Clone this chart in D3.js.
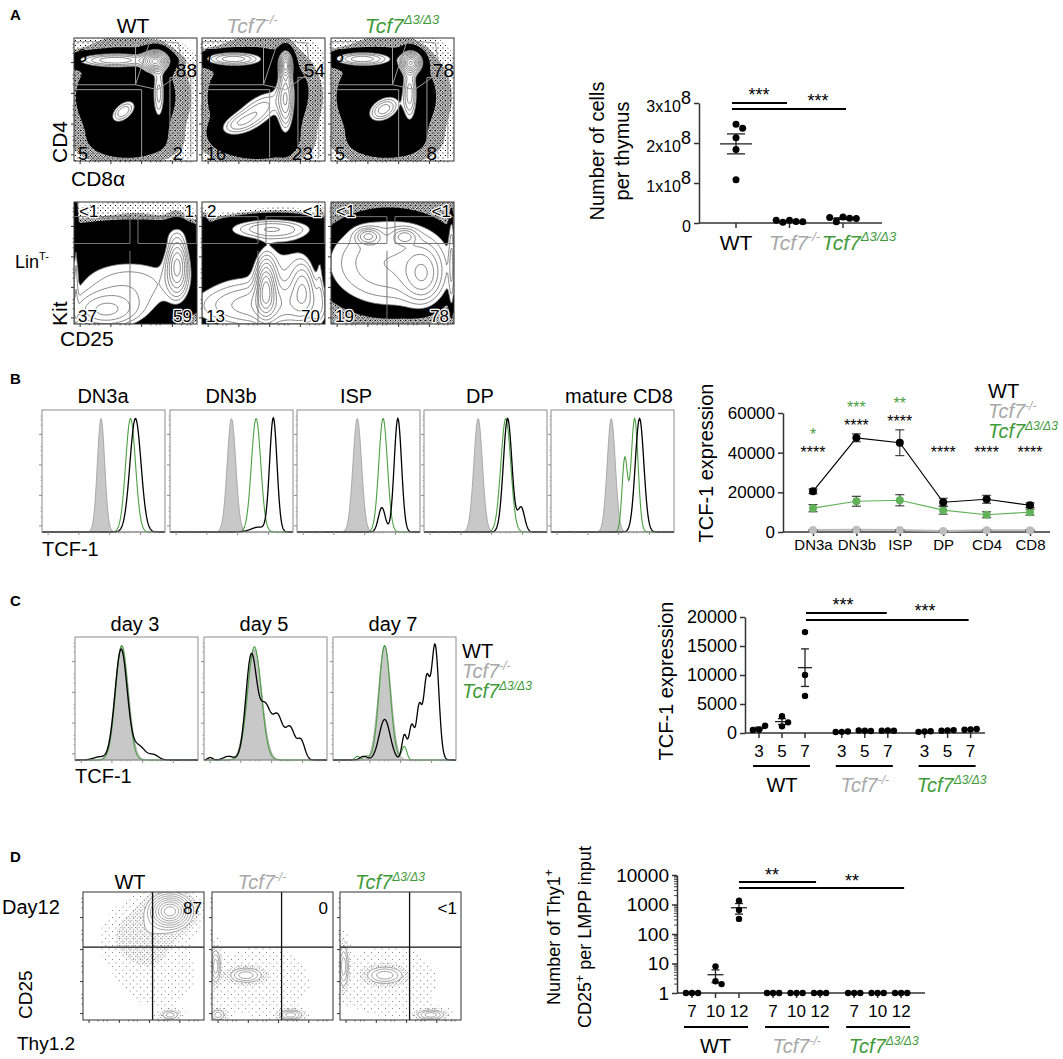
<!DOCTYPE html>
<html>
<head>
<meta charset="utf-8">
<script src="https://cdn.jsdelivr.net/npm/d3@7"></script>
<style>
body{margin:0;background:#fff}
text{font-family:"Liberation Sans",Arial,sans-serif}
</style>
</head>
<body>
<svg id="fig" width="1063" height="1059"></svg>
<script>
// ---------------- data ----------------
const genoNames = ["WT", "Tcf7", "Tcf7"]
const genoSup = ["", "-/-", "\u03943/\u03943"]
const genoFill = ["#000000", "#a8a8a8", "#3f9b3a"]

// panel A flow gate percentages [top-left, right-top, right-bottom, bottom-left]
const aTopPct = [["6", "88", "2", "5"], ["7", "54", "23", "16"], ["6", "78", "8", "5"]]
const aBotPct = [["<1", "1", "37", "59"], ["2", "<1", "13", "70"], ["<1", "<1", "19", "78"]]
const dPct = ["87", "0", "<1"]

// cell populations: [cx, cy, sx, sy, angle, weight], unit axes
const aTopBlobs = [
  [[0.66,0.81,0.06,0.05,0,1.0],[0.33,0.82,0.2,0.035,0,0.45],[0.69,0.55,0.03,0.14,0,0.3],[0.4,0.4,0.07,0.04,40,0.32],[0.42,0.52,0.32,0.3,0,0.1],[0.45,0.12,0.3,0.1,0,0.03]],
  [[0.25,0.83,0.15,0.035,0,0.45],[0.68,0.78,0.03,0.06,0,0.9],[0.68,0.5,0.04,0.16,0,0.55],[0.45,0.4,0.16,0.07,35,0.3],[0.28,0.3,0.1,0.05,20,0.2],[0.45,0.52,0.32,0.3,0,0.1],[0.45,0.12,0.3,0.1,0,0.035]],
  [[0.25,0.83,0.15,0.035,0,0.45],[0.65,0.8,0.05,0.05,0,1.0],[0.64,0.55,0.035,0.14,0,0.4],[0.43,0.42,0.08,0.05,30,0.4],[0.45,0.52,0.32,0.3,0,0.1],[0.45,0.12,0.3,0.1,0,0.03]]
]
const aBotBlobs = [
  [[0.5,0.75,0.45,0.07,0,0.12],[0.45,0.33,0.38,0.18,0,0.3],[0.84,0.48,0.055,0.15,0,0.75],[0.25,0.1,0.2,0.1,0,0.45],[0.015,0.45,0.012,0.4,0,0.15],[0.5,0.95,0.4,0.05,0,0.02]],
  [[0.2,0.5,0.17,0.14,0,0.1],[0.55,0.78,0.25,0.06,0,0.38],[0.52,0.3,0.05,0.15,0,0.85],[0.82,0.3,0.06,0.14,0,0.4],[0.5,0.15,0.42,0.14,0,0.5],[0.68,0.5,0.18,0.18,0,0.2],[0.96,0.4,0.02,0.3,0,0.12],[0.02,0.7,0.02,0.12,0,0.12]],
  [[0.47,0.5,0.42,0.3,0,0.38],[0.3,0.72,0.06,0.04,0,0.35],[0.6,0.72,0.06,0.04,0,0.25],[0.75,0.4,0.1,0.15,0,0.3],[0.98,0.5,0.015,0.35,0,0.15]]
]
const dBlobs = [
  [[0.72,0.85,0.09,0.07,0,1.0],[0.52,0.68,0.17,0.13,20,0.09],[0.72,0.04,0.05,0.025,0,0.2],[0.62,0.35,0.2,0.15,0,0.02]],
  [[0.28,0.35,0.08,0.035,0,0.3],[0.03,0.42,0.025,0.08,0,0.3],[0.65,0.04,0.06,0.025,0,0.3],[0.05,0.04,0.04,0.03,0,0.2],[0.4,0.3,0.3,0.2,0,0.015]],
  [[0.37,0.35,0.09,0.04,0,0.3],[0.03,0.42,0.025,0.1,0,0.3],[0.75,0.04,0.07,0.025,0,0.3],[0.4,0.3,0.3,0.2,0,0.015]]
]

// histogram peaks [position on axis, width, height]
const histBtitles = ["DN3a", "DN3b", "ISP", "DP", "mature CD8"]
const histBko = [[[0.48,0.03,0.93]],[[0.5,0.035,0.93]],[[0.49,0.035,0.93]],[[0.44,0.035,0.93]],[[0.49,0.033,0.93]]]
const histBd3 = [[[0.72,0.04,0.93]],[[0.70,0.038,0.93]],[[0.70,0.035,0.93]],[[0.665,0.04,0.93]],[[0.6,0.022,0.6],[0.68,0.028,0.93]]]
const histBwt = [[[0.76,0.045,0.93]],[[0.84,0.03,0.93],[0.72,0.06,0.04]],[[0.82,0.03,0.93],[0.69,0.028,0.2]],[[0.68,0.035,0.93],[0.79,0.028,0.2]],[[0.72,0.035,0.93]]]

const histCtitles = ["day 3", "day 5", "day 7"]
const histCko = [[[0.38,0.055,0.93]],[[0.41,0.06,0.9]],[[0.42,0.05,0.93]]]
const histCd3 = [[[0.38,0.05,0.93]],[[0.41,0.055,0.92]],[[0.42,0.045,0.93],[0.58,0.02,0.11],[0.2,0.02,0.03],[0.27,0.02,0.03]]]
const histCwt = [
  [[0.375,0.05,0.9],[0.52,0.05,0.11],[0.64,0.04,0.04],[0.2,0.05,0.025]],
  [[0.385,0.045,0.85],[0.5,0.045,0.42],[0.6,0.04,0.33],[0.7,0.04,0.26],[0.79,0.03,0.15],[0.2,0.04,0.03],[0.05,0.02,0.02]],
  [[0.42,0.045,0.33],[0.58,0.02,0.2],[0.64,0.022,0.28],[0.7,0.022,0.42],[0.76,0.025,0.62],[0.83,0.03,0.93],[0.25,0.03,0.03]]
]

// thymus cellularity (x10^8)
const thymusCells = [[2.47, 2.37, 2.13, 1.84, 1.08], [0.07, 0.04, 0.02, 0.03, 0.07], [0.15, 0.12, 0.03, 0.11, 0.14]]

// TCF-1 expression by subset
const subsets = ["DN3a", "DN3b", "ISP", "DP", "CD4", "CD8"]
const tcfWT = [20500, 47500, 45000, 15000, 16500, 13500]
const tcfWTsem = [1200, 2000, 6500, 2000, 2000, 1200]
const tcfKO = [1000, 1100, 1000, 500, 900, 900]
const tcfKOsem = [200, 200, 200, 100, 200, 200]
const tcfD3 = [12000, 15500, 16000, 11000, 8700, 10000]
const tcfD3sem = [1800, 2500, 2800, 2000, 1500, 1500]
const starsWT = ["****", "****", "****", "****", "****", "****"]
const starsD3 = ["*", "***", "**", "", "", ""]

// TCF-1 in culture (days 3, 5, 7)
const cDays = ["3", "5", "7"]
const cWT = [[570, 1260, 520], [2900, 1150, 1840], [17400, 10000, 6400]]
const cKO = [[200, 250, 180], [400, 350, 450], [450, 400, 380]]
const cD3 = [[250, 300, 200], [450, 500, 400], [600, 700, 550]]

// Thy1+ CD25+ per LMPP (days 7, 10, 12)
const dDays = ["7", "10", "12"]
const dWT = [[1, 1, 1], [8, 2.5, 2], [1350, 650, 325]]
const dKO = [[1, 1, 1], [1, 1, 1], [1, 1, 1]]
const dD3 = [[1, 1, 1], [1, 1, 1], [1, 1, 1]]

// ---------------- helpers ----------------
const svg = d3.select("#fig")
const defs = svg.append("defs")
let clipN = 0

pat=(id, s, r, col)=>{
  const p = defs.append("pattern").attr("id", id).attr("width", s).attr("height", s).attr("patternUnits", "userSpaceOnUse")
  p.append("rect").attr("width", r).attr("height", r).attr("fill", col)
  p.append("rect").attr("x", s/2).attr("y", s/2).attr("width", r).attr("height", r).attr("fill", col)
}
pat("dotsLo", 5, 1, "#000")
pat("dotsHi", 2.6, 1.1, "#000")
pat("gDotsLo", 7, 1, "#888")
pat("gDotsHi", 3.6, 1, "#888")

label=(x, y, s, size, o = {})=>{
  return svg.append("text").attr("x", x).attr("y", y).attr("font-size", size)
    .attr("text-anchor", o.anchor || "start").attr("fill", o.fill || "#000")
    .attr("font-weight", o.weight || null)
    .attr("transform", o.rot ? `rotate(-90,${x},${y})` : null).text(s)
}

// gate number sitting on dotted cells: white halo keeps it readable
gateNum=(x, y, s, size, anchor)=>{
  return label(x, y, s, size, {anchor}).attr("stroke", "#fff").attr("stroke-width", 2.4)
    .attr("stroke-linejoin", "round").attr("paint-order", "stroke")
}

geno=(i, x, y, size, anchor)=>{
  const t = svg.append("text").attr("x", x).attr("y", y).attr("font-size", size)
    .attr("text-anchor", anchor || "middle").attr("fill", genoFill[i])
  if (!genoSup[i]) return t.text(genoNames[i])
  t.attr("font-style", "italic")
  t.append("tspan").text(genoNames[i])
  t.append("tspan").attr("font-size", Math.round(size*0.62)).attr("dy", -Math.round(size*0.42)).text(genoSup[i])
  return t
}

density=(blobs, ux, uy)=>{
  let s = 0
  for (const [cx, cy, sx, sy, ang, wt] of blobs) {
    const a = ang*Math.PI/180, dx = ux-cx, dy = uy-cy
    const u = (dx*Math.cos(a)+dy*Math.sin(a))/sx, v = (-dx*Math.sin(a)+dy*Math.cos(a))/sy
    s += wt*Math.exp(-0.5*(u*u+v*v))
  }
  return s
}

const darkLevels = [0.012, 0.025, 0.045, 0.2, 0.26, 0.33, 0.42, 0.53, 0.66, 0.8, 0.95, 1.1]
const thinLevels = [0.02, 0.05, 0.12, 0.2, 0.25, 0.31, 0.38, 0.46, 0.56, 0.68, 0.82, 0.98]
const lightLevels = [0.006, 0.03, 0.1, 0.16, 0.24, 0.34, 0.46, 0.6, 0.75, 0.9, 1.05]
const aBotLevels = [darkLevels, darkLevels, thinLevels]

flow=(x0, y0, w, h, blobs, look, levels)=>{
  const n = 90, m = Math.round(n*h/w)
  const vals = new Array(n*m)
  for (let j = 0; j < m; j++) for (let i = 0; i < n; i++) vals[j*n+i] = density(blobs, (i+0.5)/n, 1-(j+0.5)/m)
  const proj = d3.geoTransform({point(px, py){ this.stream.point(x0+px*w/n, y0+py*h/m) }})
  const path = d3.geoPath(proj)
  const id = "clip"+(clipN++)
  defs.append("clipPath").attr("id", id).append("rect").attr("x", x0).attr("y", y0).attr("width", w).attr("height", h)
  const g = svg.append("g").attr("clip-path", `url(#${id})`)
  d3.contours().size([n, m]).thresholds(levels)(vals).forEach((c, k)=>{
    const p = g.append("path").attr("d", path(c))
    if (look === "dark") {
      if (k === 0) p.attr("fill", "url(#dotsLo)")
      else if (k === 1) p.attr("fill", "url(#dotsHi)")
      else if (k === 2) p.attr("fill", "#000")
      else if (k === 3) p.attr("fill", "#fff").attr("stroke", "#777").attr("stroke-width", 0.8)
      else p.attr("fill", "none").attr("stroke", "#666").attr("stroke-width", 0.8)
    } else {
      if (k === 0) p.attr("fill", "url(#gDotsLo)")
      else if (k === 1) p.attr("fill", "url(#gDotsHi)")
      else if (k === 2) p.attr("fill", "#fff").attr("stroke", "#888").attr("stroke-width", 0.8)
      else p.attr("fill", "none").attr("stroke", "#888").attr("stroke-width", 0.8)
    }
  })
  return g
}

// log-looking ticks along the left and bottom edges of a plot box
const edgeMajor = [0.05, 0.3, 0.55, 0.8]
const edgeMinor = [0.125, 0.17, 0.2, 0.375, 0.42, 0.45, 0.625, 0.67, 0.7, 0.875, 0.92, 0.95]
frame=(x0, y0, w, h, col)=>{
  const g = svg.append("g").attr("stroke", col).attr("fill", "none")
  g.append("rect").attr("x", x0).attr("y", y0).attr("width", w).attr("height", h).attr("stroke-width", 1)
  edgeMajor.forEach(t=>{
    g.append("line").attr("x1", x0).attr("x2", x0-3).attr("y1", y0+h-t*h).attr("y2", y0+h-t*h)
    g.append("line").attr("x1", x0+t*w).attr("x2", x0+t*w).attr("y1", y0+h).attr("y2", y0+h+3)
  })
  edgeMinor.forEach(t=>{
    g.append("line").attr("x1", x0).attr("x2", x0-1.5).attr("y1", y0+h-t*h).attr("y2", y0+h-t*h).attr("stroke-width", 0.7)
    g.append("line").attr("x1", x0+t*w).attr("x2", x0+t*w).attr("y1", y0+h).attr("y2", y0+h+1.5).attr("stroke-width", 0.7)
  })
}

gate=(x0, y0, w, h, pts, col, sw)=>{
  const sx = d3.scaleLinear().domain([0, 1]).range([x0, x0+w])
  const sy = d3.scaleLinear().domain([0, 1]).range([y0+h, y0])
  svg.append("path").attr("d", d3.line().x(d=>sx(d[0])).y(d=>sy(d[1]))(pts))
    .attr("fill", "none").attr("stroke", col).attr("stroke-width", sw || 1)
}

hist=(x0, y0, w, h, ko, d3c, wt)=>{
  const sx = d3.scaleLinear().domain([0, 1]).range([x0, x0+w])
  const sy = d3.scaleLinear().domain([0, 1]).range([y0+h, y0])
  const xs = d3.range(0, 1.0001, 0.004)
  const f = comps=>xs.map(x=>[x, d3.sum(comps, c=>c[2]*Math.exp(-0.5*((x-c[0])/c[1])**2))])
  svg.append("path").attr("d", d3.area().x(d=>sx(d[0])).y0(sy(0)).y1(d=>sy(d[1]))(f(ko)))
    .attr("fill", "#c8c8c8").attr("stroke", "#9a9a9a").attr("stroke-width", 0.8)
  svg.append("path").attr("d", d3.line().x(d=>sx(d[0])).y(d=>sy(d[1]))(f(d3c)))
    .attr("fill", "none").attr("stroke", "#4aa043").attr("stroke-width", 1.1)
  svg.append("path").attr("d", d3.line().x(d=>sx(d[0])).y(d=>sy(d[1]))(f(wt)))
    .attr("fill", "none").attr("stroke", "#000").attr("stroke-width", 1.3)
  frame(x0, y0, w, h, "#8c8c8c")
}

dodge=(vals, yS, cx, r)=>{
  const placed = []
  return vals.map(v=>{
    const y = yS(v)
    let off = 0, k = 0
    while (placed.some(p=>(p.x-(cx+off))**2+(p.y-y)**2 < (1.9*r)**2)) {
      k++
      off = (k%2 ? 1 : -1)*Math.ceil(k/2)*r*1.9
    }
    const p = {x: cx+off, y}
    placed.push(p)
    return p
  })
}

scatterGroup=(vals, yS, cx, r, meanW, capW)=>{
  const g = svg.append("g")
  const m = d3.mean(vals), se = d3.deviation(vals)/Math.sqrt(vals.length)
  g.append("line").attr("x1", cx-meanW).attr("x2", cx+meanW).attr("y1", yS(m)).attr("y2", yS(m)).attr("stroke", "#222").attr("stroke-width", 1.3)
  const lo = Math.max(m-se, yS.domain()[0])
  g.append("line").attr("x1", cx).attr("x2", cx).attr("y1", yS(lo)).attr("y2", yS(m+se)).attr("stroke", "#222").attr("stroke-width", 1.3)
  ;[lo, m+se].forEach(v=>g.append("line").attr("x1", cx-capW).attr("x2", cx+capW).attr("y1", yS(v)).attr("y2", yS(v)).attr("stroke", "#222").attr("stroke-width", 1.3))
  dodge(vals, yS, cx, r).forEach(p=>g.append("circle").attr("cx", p.x).attr("cy", p.y).attr("r", r).attr("fill", "#000"))
}

sigBar=(x1, x2, y, stars, tx, ty, size)=>{
  svg.append("line").attr("x1", x1).attr("x2", x2).attr("y1", y).attr("y2", y).attr("stroke", "#000").attr("stroke-width", 2)
  label(tx, ty, stars, size, {anchor: "middle"})
}

styleAxis=(g, size)=>{
  g.attr("font-family", null).attr("font-size", size)
  g.selectAll("path,line").attr("stroke", "#333").attr("stroke-width", 1.5)
  g.selectAll("text").attr("fill", "#000")
}

// ---------------- panel A ----------------
label(10, 20, "A", 15, {weight: "bold"})
const aX = [74, 202, 331], titleAx = [133, 252, 402]
aX.forEach((x, i)=>geno(i, titleAx[i], 33, 21))
aX.forEach((x, i)=>{
  flow(x, 38, 123, 123, aTopBlobs[i], "dark", darkLevels)
  gate(x, 38, 123, 123, [[0, 0.62], [0.5, 0.62], [0.5, 0.97], [0, 0.97]], "#999")
  gate(x, 38, 123, 123, [[0.5, 0.62], [0.62, 0.98], [0.85, 0.96], [0.88, 0.72], [0.68, 0.58], [0.5, 0.62]], "#999")
  gate(x, 38, 123, 123, [[0.78, 0.03], [0.78, 0.68], [0.95, 0.68], [0.95, 0.03]], "#999")
  gate(x, 38, 123, 123, [[0, 0.58], [0.55, 0.58], [0.55, 0.03]], "#999")
  frame(x, 38, 123, 123, "#333")
  const p = aTopPct[i]
  label(x+3, 62, p[0], 18)
  label(x+123, 77, p[1], 19, {anchor: "end"})
  label(x+[109, 111, 106][i], 160, p[2], 19, {anchor: "end"})
  label(x+4, 160, p[3], 18)
})
label(67, 163, "CD4", 21, {rot: true})
label(71, 186, "CD8\u03b1", 21)

aX.forEach((x, i)=>{
  flow(x, 202, 123, 122, aBotBlobs[i], "dark", aBotLevels[i])
  gate(x, 202, 123, 122, [[0, 0.66], [0.455, 0.66], [0.455, 0.88], [0, 0.88]], "#777")
  gate(x, 202, 123, 122, [[0.52, 0.66], [0.52, 0.88], [0.995, 0.88], [0.995, 0.66], [0.52, 0.66]], "#777")
  gate(x, 202, 123, 122, [[0.455, 0], [0.455, 0.6]], "#777")
  frame(x, 202, 123, 122, "#333")
  const p = aBotPct[i]
  gateNum(x+5, 217, p[0], 17, "start")
  gateNum(x+120, 217, p[1], 17, "end")
  gateNum(x+4, 322, p[2], 17, "start")
  gateNum(x+118, 322, p[3], 17, "end")
})
const lin = label(15, 268, "Lin", 18)
lin.append("tspan").attr("font-size", 11).attr("dy", -8).text("T-")
label(67, 326, "Kit", 21, {rot: true})
label(60, 346, "CD25", 21)

// thymus cellularity
const yA = d3.scaleLinear().domain([0, 3]).range([223, 103])
const xA = d3.scalePoint().domain([0, 1, 2]).range([736, 843])
const axA = svg.append("g").attr("transform", "translate(699,0)")
  .call(d3.axisLeft(yA).tickValues([0, 1, 2, 3]).tickSize(5).tickSizeOuter(0))
styleAxis(axA, 16)
axA.selectAll(".tick text").each(function(d){
  const t = d3.select(this).text(null).attr("dy", "0.55em")
  if (d === 0) { t.text("0"); return }
  t.append("tspan").text(d+"x10")
  t.append("tspan").attr("dy", -8).attr("font-size", 18).text("8")
})
svg.append("line").attr("x1", 699).attr("x2", 882).attr("y1", 223).attr("y2", 223).attr("stroke", "#333").attr("stroke-width", 1.5)
xA.domain().forEach(c=>svg.append("line").attr("x1", xA(c)).attr("x2", xA(c)).attr("y1", 223).attr("y2", 228).attr("stroke", "#333").attr("stroke-width", 1.5))
thymusCells.forEach((v, i)=>scatterGroup(v, yA, xA(i), 3.5, 16, 9))
geno(0, xA(0), 250, 21)
geno(1, xA(1)+5, 250, 21)
geno(2, xA(2)+16, 250, 21)
sigBar(732, 787, 103, "***", 759, 101, 18)
sigBar(732, 846, 109, "***", 818, 107, 18)
label(604, 151, "Number of cells", 20, {rot: true, anchor: "middle"})
label(629, 151, "per thymus", 20, {rot: true, anchor: "middle"})

// ---------------- panel B ----------------
label(10, 384, "B", 15, {weight: "bold"})
const bX = [42, 170, 297, 424, 551]
bX.forEach((x, i)=>{
  label(x+[61, 61, 59, 56, 68][i], 403, histBtitles[i], 20, {anchor: "middle"})
  hist(x, 410, 123, 122, histBko[i], histBd3[i], histBwt[i])
})
label(42, 556, "TCF-1", 20)

const yB = d3.scaleLinear().domain([0, 60000]).range([532, 413])
const xB = d3.scalePoint().domain(subsets).range([813, 1030])
const axB = svg.append("g").attr("transform", "translate(783,0)")
  .call(d3.axisLeft(yB).tickValues([0, 20000, 40000, 60000]).tickSize(5).tickSizeOuter(0).tickFormat(d3.format("d")))
styleAxis(axB, 17)
const axBx = svg.append("g").attr("transform", "translate(0,532)")
  .call(d3.axisBottom(xB).tickSize(4).tickSizeOuter(0))
styleAxis(axBx, 15)
axBx.select(".domain").remove()
svg.append("line").attr("x1", 783).attr("x2", 1050).attr("y1", 532).attr("y2", 532).attr("stroke", "#333").attr("stroke-width", 1.5)

const seriesB = [[tcfKO, tcfKOsem, "#bdbdbd", 2], [tcfD3, tcfD3sem, "#62b25a", 1.2], [tcfWT, tcfWTsem, "#000", 1.2]]
seriesB.forEach(([vals, sem, col, lw])=>{
  svg.append("path").attr("d", d3.line().x((d, i)=>xB(subsets[i])).y(d=>yB(d))(vals))
    .attr("fill", "none").attr("stroke", col).attr("stroke-width", lw)
  vals.forEach((v, i)=>{
    const x = xB(subsets[i])
    const g = svg.append("g").attr("stroke", "#333").attr("stroke-width", 1.1)
    g.append("line").attr("x1", x).attr("x2", x).attr("y1", yB(v-sem[i])).attr("y2", yB(v+sem[i]))
    ;[v-sem[i], v+sem[i]].forEach(e=>g.append("line").attr("x1", x-4.5).attr("x2", x+4.5).attr("y1", yB(e)).attr("y2", yB(e)))
    svg.append("circle").attr("cx", x).attr("cy", yB(v)).attr("r", 4).attr("fill", col)
  })
})
// significance stars: WT vs Tcf7-/- in black, WT vs Tcf7d3 in green above
subsets.forEach((s, i)=>{
  const top = Math.max(tcfWT[i]+tcfWTsem[i], 36000)
  label(xB(s), yB(top)-3, starsWT[i], 16, {anchor: "middle"})
  if (starsD3[i]) label(xB(s), yB(top)-21, starsD3[i], 16, {anchor: "middle", fill: "#4aa043"})
})
label(713, 463, "TCF-1 expression", 20, {rot: true, anchor: "middle"})
geno(0, 988, 398, 20, "start")
geno(1, 988, 418, 20, "start")
geno(2, 988, 438, 20, "start")

// ---------------- panel C ----------------
label(10, 606, "C", 15, {weight: "bold"})
const cX = [75, 204, 333]
cX.forEach((x, i)=>{
  label(x+60, 631, histCtitles[i], 20, {anchor: "middle"})
  hist(x, 637, 123, 123, histCko[i], histCd3[i], histCwt[i])
})
label(75, 783, "TCF-1", 20)
geno(0, 462, 658, 20, "start")
geno(1, 462, 678, 20, "start")
geno(2, 462, 698, 20, "start")

const yC = d3.scaleLinear().domain([0, 20000]).range([733, 617])
const xC = d3.scaleLinear().domain([0, 9.2]).range([759, 759+9.2*23])
const posC = (g, i)=>xC(g*3.6+i)
const axC = svg.append("g").attr("transform", "translate(745,0)")
  .call(d3.axisLeft(yC).tickValues([0, 5000, 10000, 15000, 20000]).tickSize(5).tickSizeOuter(0).tickFormat(d3.format("d")))
styleAxis(axC, 18)
svg.append("line").attr("x1", 745).attr("x2", 985).attr("y1", 733).attr("y2", 733).attr("stroke", "#333").attr("stroke-width", 1.5)
;[cWT, cKO, cD3].forEach((grp, g)=>{
  grp.forEach((vals, i)=>{
    const x = posC(g, i)
    svg.append("line").attr("x1", x).attr("x2", x).attr("y1", 733).attr("y2", 738).attr("stroke", "#333").attr("stroke-width", 1.5)
    label(x, 757, cDays[i], 17, {anchor: "middle"})
    scatterGroup(vals, yC, x, 3.2, 7, 4)
  })
  svg.append("line").attr("x1", posC(g, 0)-6).attr("x2", posC(g, 2)+5).attr("y1", 766).attr("y2", 766).attr("stroke", "#000").attr("stroke-width", 2.2)
  geno(g, (posC(g, 0)+posC(g, 2))/2+[0, 0, 4][g], 792, 20)
})
sigBar(posC(0, 2)+1, posC(1, 2)-1, 613, "***", 843, 611, 18)
sigBar(posC(0, 2)+1, posC(2, 2)-2, 620, "***", 925, 617, 18)
label(673, 681, "TCF-1 expression", 20, {rot: true, anchor: "middle"})

// ---------------- panel D ----------------
label(10, 862, "D", 15, {weight: "bold"})
const dX = [83, 212, 340], titleDx = [130, 262, 390]
dX.forEach((x, i)=>{
  geno(i, titleDx[i], 889, 20)
  flow(x, 892, 121, 128, dBlobs[i], "light", lightLevels)
  gate(x, 892, 121, 128, [[0.575, 0], [0.575, 1]], "#111", 1.3)
  gate(x, 892, 121, 128, [[0, 0.57], [1, 0.57]], "#111", 1.3)
  frame(x, 892, 121, 128, "#333")
  label(x+[119, 116, 117][i], 914, dPct[i], 17, {anchor: "end"})
})
label(2, 914, "Day12", 20)
label(32, 1019, "CD25", 19, {rot: true})
label(17, 1050, "Thy1.2", 19)

const yD = d3.scaleLog().domain([1, 10000]).range([993, 875])
const xD = d3.scaleLinear().domain([0, 8.9]).range([692, 692+8.9*23.5])
const posD = (g, i)=>xD(g*3.45+i)
const axD = svg.append("g").attr("transform", "translate(677,0)")
  .call(d3.axisLeft(yD).tickValues([1, 10, 100, 1000, 10000]).tickSize(5).tickSizeOuter(0).tickFormat(d3.format("d")))
styleAxis(axD, 19)
d3.range(0, 4).forEach(e=>d3.range(2, 10).forEach(k=>{
  const y = yD(k*10**e)
  svg.append("line").attr("x1", 677).attr("x2", 674).attr("y1", y).attr("y2", y).attr("stroke", "#333").attr("stroke-width", 0.9)
}))
svg.append("line").attr("x1", 677).attr("x2", 925).attr("y1", 993).attr("y2", 993).attr("stroke", "#333").attr("stroke-width", 1.5)
;[dWT, dKO, dD3].forEach((grp, g)=>{
  grp.forEach((vals, i)=>{
    const x = posD(g, i)
    svg.append("line").attr("x1", x).attr("x2", x).attr("y1", 993).attr("y2", 998).attr("stroke", "#333").attr("stroke-width", 1.5)
    label(x, 1017, dDays[i], 17, {anchor: "middle"})
    scatterGroup(vals, yD, x, 3.2, 8, 4)
  })
  svg.append("line").attr("x1", posD(g, 0)-8).attr("x2", posD(g, 2)+9).attr("y1", 1027).attr("y2", 1027).attr("stroke", "#000").attr("stroke-width", 2.2)
  geno(g, (posD(g, 0)+posD(g, 2))/2+[0, 0, 6][g], 1053, 20)
})
sigBar(posD(0, 2), posD(1, 2)-4, 882, "**", 772, 881, 18)
sigBar(posD(0, 2), posD(2, 2)+3, 888, "**", 852, 887, 18)
const dl1 = label(560, 937, "Number of Thy1", 18, {rot: true, anchor: "middle"})
dl1.append("tspan").attr("font-size", 12).attr("dy", -7).text("+")
const dl2 = label(591, 937, "CD25", 18, {rot: true, anchor: "middle"})
dl2.append("tspan").attr("font-size", 12).attr("dy", -7).text("+")
dl2.append("tspan").attr("dy", 7).text(" per LMPP input")
</script>
</body>
</html>
